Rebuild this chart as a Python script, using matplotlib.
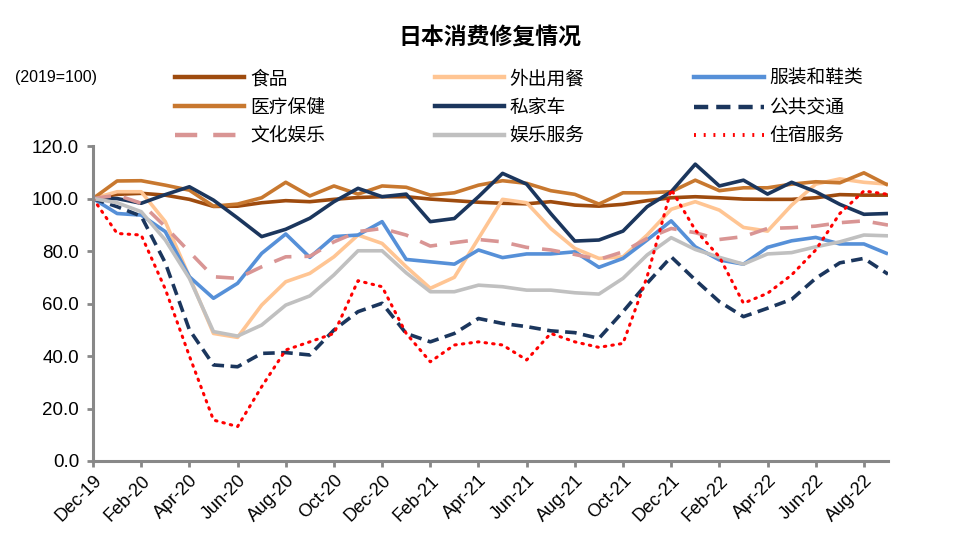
import matplotlib
matplotlib.use("Agg")
import matplotlib.pyplot as plt
from matplotlib.lines import Line2D

plt.rcParams['font.family'] = ['Liberation Sans', 'Noto Sans CJK SC', 'DejaVu Sans']

months = ["Dec-19", "Jan-20", "Feb-20", "Mar-20", "Apr-20", "May-20", "Jun-20", "Jul-20",
          "Aug-20", "Sep-20", "Oct-20", "Nov-20", "Dec-20", "Jan-21", "Feb-21", "Mar-21",
          "Apr-21", "May-21", "Jun-21", "Jul-21", "Aug-21", "Sep-21", "Oct-21", "Nov-21",
          "Dec-21", "Jan-22", "Feb-22", "Mar-22", "Apr-22", "May-22", "Jun-22", "Jul-22",
          "Aug-22", "Sep-22"]

food = [100, 101.6, 102, 101.3, 99.7, 97, 97.1, 98.4, 99.2, 98.8, 99.7, 100.4, 100.7, 100.7,
        99.8, 99.2, 98.6, 98.2, 98, 98.8, 97.5, 97.1, 97.8, 99.2, 100.3, 100.7, 100.3, 99.8,
        99.7, 99.7, 100.3, 101.5, 101.3, 101.3]
dining = [100, 102.6, 102.6, 91.2, 70.2, 48.6, 47.1, 59.4, 68.3, 71.5, 77.8, 86.1, 82.9, 74,
          65.8, 70, 84.8, 99.7, 98.4, 88.6, 81, 77.2, 77.8, 86.1, 95.9, 98.8, 95.6, 89, 87.6,
          97.5, 105.5, 107.5, 106.2, 105.5]
clothing = [100, 94.3, 93.7, 87.4, 70.2, 62, 67.7, 79.1, 86.5, 77.6, 85.5, 86.1, 91.2, 76.8,
            75.9, 75, 80.4, 77.5, 78.9, 78.9, 79.7, 73.8, 77.2, 84.2, 91.5, 81.6, 76.6, 75,
            81.4, 83.9, 85.2, 82.7, 82.7, 78.9]
medical = [100, 106.7, 106.8, 105.1, 103.2, 97.1, 97.9, 100.3, 106.2, 101, 104.8, 101.7, 104.8,
           104.3, 101.3, 102.2, 105.1, 106.8, 105.8, 103, 101.6, 97.9, 102.2, 102.2, 102.6, 107,
           103, 104.1, 104.1, 105.5, 106.4, 106, 109.8, 105.1]
car = [100, 100, 98.2, 101.5, 104.5, 99.4, 92.6, 85.5, 88.3, 92.5, 98.8, 103.9, 100.7, 101.7,
       91.2, 92.4, 100.7, 109.6, 105.5, 94.3, 83.8, 84.2, 87.6, 96.9, 102.6, 113.1, 104.8, 107,
       101.7, 106.2, 102.6, 97.8, 94, 94.3]
public = [100, 96.9, 93.3, 75.5, 50, 36.6, 35.9, 41, 41.3, 40.4, 49.9, 56.9, 60.1, 48.6, 45.4,
          48.6, 54.3, 52.4, 51.2, 49.6, 48.9, 46.7, 56.9, 67.7, 77.8, 69, 60.7, 55, 58.2, 61.6,
          69.6, 75.5, 77.2, 71.2]
culture = [100, 101.3, 98.2, 89.3, 79.7, 70.2, 69.6, 74, 77.8, 78, 83.5, 87.4, 88.6, 86.1, 81.9,
           83.2, 84.4, 83.5, 81.4, 80.4, 78.7, 76.8, 79.7, 84.8, 88.6, 87, 84.4, 85.5, 88.6,
           88.9, 89.5, 90.8, 91.5, 89.9]
entertain = [100, 98.4, 95, 84.2, 69.6, 49.3, 47.6, 51.8, 59.4, 62.9, 70.9, 80.1, 80.1, 71.7,
             64.5, 64.5, 67, 66.4, 65.1, 65.1, 64.1, 63.6, 69.6, 78.5, 85.1, 80.6, 77.6, 75,
             78.9, 79.4, 81.6, 83.5, 86.1, 85.8]
lodging = [100, 86.7, 86.1, 65.5, 40, 15.6, 13.1, 28.3, 42.3, 45.4, 48.6, 68.7, 66.4, 48.6,
           37.8, 44.2, 45.4, 44.2, 38.5, 48.6, 45.4, 43.3, 44.8, 70.2, 103.5, 88, 77.8, 60.1,
           63.9, 70.9, 80.4, 94.3, 102.9, 101.6]

names = ["食品", "外出用餐", "服装和鞋类", "医疗保健", "私家车", "公共交通", "文化娱乐", "娱乐服务", "住宿服务"]
series = [food, dining, clothing, medical, car, public, culture, entertain, lodging]

fig = plt.figure(figsize=(9.67, 5.41), dpi=100)
ax = fig.add_axes([0.0962, 0.1479, 0.9183 - 0.0962, 0.730 - 0.1479])

x = list(range(len(months)))
navy = '#1B365D'
styles = {
    "食品": dict(color='#9E4B0E', lw=2.6, ls='-'),
    "外出用餐": dict(color='#FFC593', lw=2.6, ls='-'),
    "服装和鞋类": dict(color='#5690D8', lw=2.6, ls='-'),
    "医疗保健": dict(color='#C8782F', lw=2.6, ls='-'),
    "私家车": dict(color=navy, lw=2.6, ls='-'),
    "公共交通": dict(color=navy, lw=2.6, ls=(0, (3.2, 1.8))),
    "文化娱乐": dict(color='#D99594', lw=2.6, ls=(0, (5, 3.6))),
    "娱乐服务": dict(color='#C0C0C0', lw=2.6, ls='-'),
    "住宿服务": dict(color='#FF0000', lw=2.2, ls=(0, (0.5, 2.0)), dash_capstyle='round'),
}

for name, vals in zip(names, series):
    st = dict(styles[name])
    ax.plot(x, vals, label=name, solid_capstyle='butt', **st)

ax.set_xlim(0, len(months) - 1)
ax.set_ylim(0, 120)
ax.set_yticks(range(0, 121, 20))
ax.set_yticklabels([f"{v:.1f}" for v in range(0, 121, 20)], fontsize=13.5)
ax.set_xticks(x[::2])
ax.set_xticklabels(months[::2], rotation=45, ha='right', rotation_mode='anchor', fontsize=13)

for s in ['top', 'right']:
    ax.spines[s].set_visible(False)
for s in ['left', 'bottom']:
    ax.spines[s].set_color('#888888')
    ax.spines[s].set_linewidth(2.2)
ax.tick_params(axis='both', color='#888888', width=2, length=4, direction='out')
ax.tick_params(axis='y', pad=6)
ax.tick_params(axis='x', pad=4)

fig.text(0.507, 0.932, "日本消费修复情况", ha='center', va='center', fontsize=16.5,
         fontweight='bold', family=['Noto Sans CJK SC'])
fig.text(0.0155, 0.857, "(2019=100)", ha='left', va='center', fontsize=11.5)

order = ["食品", "医疗保健", "文化娱乐", "外出用餐", "私家车", "娱乐服务", "服装和鞋类", "公共交通", "住宿服务"]
leg_handles = []
for n in order:
    st = styles[n]
    leg_handles.append(Line2D([], [], color=st['color'], lw=st['lw'] + 0.6, ls=st['ls']))
leg = fig.legend(leg_handles, order, ncol=3, loc='upper left', bbox_to_anchor=(0.181, 0.870),
                 frameon=False, fontsize=13.5, handlelength=3.7, handletextpad=0.3,
                 columnspacing=5.85, labelspacing=0.62, borderpad=0, borderaxespad=0)

fig.savefig("out.png", dpi=100)
